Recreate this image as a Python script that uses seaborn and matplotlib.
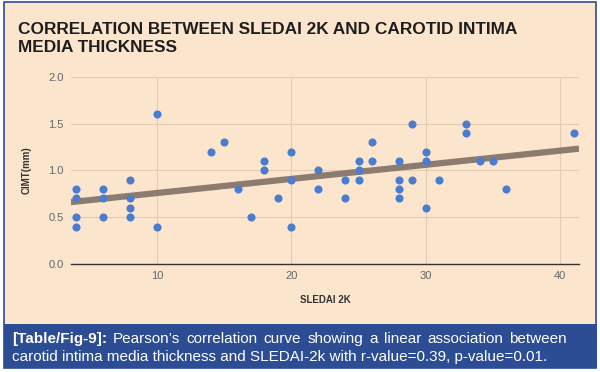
import matplotlib
matplotlib.use("Agg")
import matplotlib.pyplot as plt
import pandas as pd
import seaborn as sns
from matplotlib.patches import Rectangle

# SLEDAI 2K score and CIMT (mm)
sledai = [4, 4, 4, 4, 6, 6, 6, 8, 8, 8, 8, 10, 10, 14, 15, 16, 17, 18, 18, 19,
          20, 20, 20, 22, 22, 24, 24, 25, 25, 25, 26, 26, 28, 28, 28, 28,
          29, 29, 30, 30, 30, 31, 33, 33, 34, 35, 36, 41]
cimt = [0.8, 0.7, 0.5, 0.4, 0.8, 0.7, 0.5, 0.9, 0.7, 0.6, 0.5, 1.6, 0.4, 1.2, 1.3, 0.8, 0.5, 1.1, 1.0, 0.7,
        1.2, 0.9, 0.4, 1.0, 0.8, 0.9, 0.7, 1.1, 1.0, 0.9, 1.3, 1.1, 1.1, 0.9, 0.8, 0.7,
        1.5, 0.9, 1.2, 1.1, 0.6, 0.9, 1.5, 1.4, 1.1, 1.1, 0.8, 1.4]

x_ticks = [10, 20, 30, 40]
y_ticks = [0.0, 0.5, 1.0, 1.5, 2.0]

df = pd.DataFrame({"SLEDAI 2K": sledai, "CIMT(mm)": cimt})

sns.set_theme(style="white")
plt.rcParams["font.family"] = ["Liberation Sans", "DejaVu Sans"]

peach = "#fce5cd"
navy = "#2c4c94"

fig = plt.figure(figsize=(6, 3.72), dpi=100)
fig.patch.set_facecolor("white")

# peach panel with navy border, and the caption band
fig.patches.append(Rectangle((4 / 600, 4 / 372), 592 / 600, 366 / 372, transform=fig.transFigure,
                             facecolor=peach, edgecolor=navy, linewidth=1.2, zorder=-2))
fig.patches.append(Rectangle((4 / 600, 4 / 372), 593 / 600, 44 / 372, transform=fig.transFigure,
                             facecolor=navy, edgecolor="none", zorder=-1))

ax = fig.add_axes([0.118, 0.290, 0.847, 0.504])
ax.set_zorder(2)
ax.set_facecolor(peach)
ax.set_xlim(3.6, 41.4)
ax.set_ylim(0, 2.0)

sns.regplot(data=df, x="SLEDAI 2K", y="CIMT(mm)", ax=ax, ci=None, truncate=False,
            scatter_kws=dict(s=34, color="#4a7dcf", alpha=1, linewidths=0, zorder=3),
            line_kws=dict(color="#8c7c6f", linewidth=4.5, zorder=2, solid_capstyle="butt"))

ax.set_xticks(x_ticks)
ax.set_yticks(y_ticks)
ax.set_yticklabels([f"{v:.1f}" for v in y_ticks])
ax.grid(True, color="#e2cdb3", linewidth=0.8)
ax.set_axisbelow(True)
for s in ["top", "right", "left"]:
    ax.spines[s].set_visible(False)
ax.spines["bottom"].set_color("#333333")
ax.spines["bottom"].set_linewidth(1.0)
ax.tick_params(axis="both", length=0, labelsize=8, colors="#666666", pad=5)
ax.set_xlabel("SLEDAI 2K", fontsize=7, fontweight="bold", color="#333333", labelpad=10)
ax.set_ylabel("CIMT(mm)", fontsize=7, fontweight="bold", color="#333333", labelpad=12)

fig.text(18 / 600, 1 - 30 / 372, "CORRELATION BETWEEN SLEDAI 2K AND CAROTID INTIMA",
         fontsize=12.4, fontweight="bold", color="#1e1e1e", va="center", ha="left")
fig.text(18 / 600, 1 - 47 / 372, "MEDIA THICKNESS",
         fontsize=12.4, fontweight="bold", color="#1e1e1e", va="center", ha="left")

# caption: first line justified between x=12 and x=567, second line left aligned
cap = dict(fontsize=11, color="white", va="center", ha="left")
renderer = fig.canvas.get_renderer()
line1 = [("[Table/Fig-9]:", "bold")] + [(w, "normal") for w in
         "Pearson\u2019s correlation curve showing a linear association between".split()]
items = []
for word, weight in line1:
    t = fig.text(0, 1 - 339 / 372, word, fontweight=weight, **cap)
    items.append((t, t.get_window_extent(renderer).width))
left, right = 12, 567
gap = (right - left - sum(w for _, w in items)) / (len(items) - 1)
xpos = left
for t, w in items:
    t.set_x(xpos / 600)
    xpos += w + gap
fig.text(12 / 600, 1 - 357 / 372,
         "carotid intima media thickness and SLEDAI-2k with r-value=0.39, p-value=0.01.", **cap)

fig.savefig("out.png", dpi=100, facecolor=fig.get_facecolor())
